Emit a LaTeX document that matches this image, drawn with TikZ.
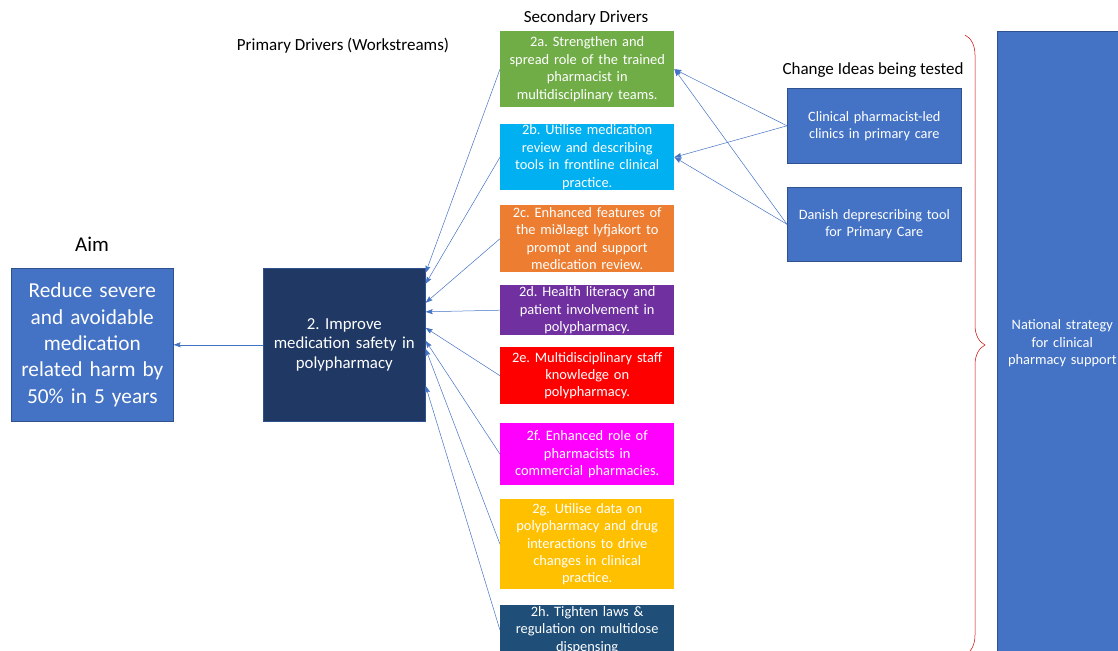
\documentclass[tikz,border=0pt]{standalone}
\usepackage{fontspec}
\setmainfont{Carlito}
\usepackage{tikz}
\usetikzlibrary{arrows.meta,positioning,calc,decorations.pathreplacing}
\frenchspacing

\definecolor{aimblue}{HTML}{4472C4}
\definecolor{navy}{HTML}{203864}
\definecolor{edgeblue}{HTML}{2F528F}
\definecolor{c2a}{HTML}{70AD47}
\definecolor{c2b}{HTML}{00B0F0}
\definecolor{c2c}{HTML}{ED7D31}
\definecolor{c2d}{HTML}{7030A0}
\definecolor{c2e}{HTML}{FF0000}
\definecolor{c2f}{HTML}{FF00FF}
\definecolor{c2g}{HTML}{FFC000}
\definecolor{c2h}{HTML}{1F4E79}

\begin{document}
\begin{tikzpicture}[x=1pt, y=-1pt,
    sec/.style={anchor=north west, minimum width=174, text width=170, inner xsep=2, inner ysep=0,
                align=center, text=white, font=\fontsize{14.4}{17.4}\selectfont},
    idea/.style={anchor=north west, minimum width=174, text width=168, inner xsep=3, inner ysep=0,
                 align=center, text=white, fill=aimblue, draw=edgeblue, line width=0.6pt,
                 font=\fontsize{14.3}{17}\selectfont},
    head/.style={font=\fontsize{17}{20}\selectfont},
    arr/.style={-{Stealth[length=7pt, width=5pt, inset=1pt]}, aimblue, line width=0.5pt}]
    \useasboundingbox (0,0) rectangle (1118,650);
    \clip (0,0) rectangle (1118,650);

    % Headings
    \node[font=\fontsize{21}{24}\selectfont] (aimlab) at (92,244) {Aim};
    \node[head] (primlab) at (343,46) {Primary Drivers (Workstreams)};
    \node[head] (seclab) at (586,18) {Secondary Drivers};
    \node[head] (idealab) at (873,70) {Change Ideas being tested};

    % Aim and primary driver
    \node[anchor=north west, minimum width=162, minimum height=153, text width=158, inner xsep=2,
          align=center, fill=aimblue, draw=edgeblue, line width=0.6pt, text=white,
          font=\fontsize{21.3}{26.3}\selectfont] (aim) at (11,268)
          {Reduce severe\\and avoidable\\medication\\related harm by\\50\% in 5 years};
    \node[anchor=north west, minimum width=162, minimum height=153, text width=158, inner xsep=2,
          align=center, fill=navy, draw=edgeblue, line width=0.6pt, text=white,
          font=\fontsize{16.8}{19.8}\selectfont] (prim) at (263,268)
          {2. Improve\\medication safety in\\polypharmacy};

    % Secondary drivers
    \node[sec, fill=c2a, minimum height=76] (s2a) at (500,31)
          {2a. Strengthen and\\spread role of the trained\\pharmacist in\\multidisciplinary teams.};
    \node[sec, fill=c2b, minimum height=66] (s2b) at (500,124)
          {2b. Utilise medication\\review and describing\\tools in frontline clinical\\practice.};
    \node[sec, fill=c2c, minimum height=67] (s2c) at (500,205)
          {2c. Enhanced features of\\the miðlægt lyfjakort to\\prompt and support\\medication review.};
    \node[sec, fill=c2d, minimum height=50] (s2d) at (500,285)
          {2d. Health literacy and\\patient involvement in\\polypharmacy.};
    \node[sec, fill=c2e, minimum height=57] (s2e) at (500,347)
          {2e. Multidisciplinary staff\\knowledge on\\polypharmacy.};
    \node[sec, fill=c2f, minimum height=62] (s2f) at (500,423)
          {2f. Enhanced role of\\pharmacists in\\commercial pharmacies.};
    \node[sec, fill=c2g, minimum height=90] (s2g) at (500,499)
          {2g. Utilise data on\\polypharmacy and drug\\interactions to drive\\changes in clinical\\practice.};
    \node[sec, fill=c2h, minimum height=50] (s2h) at (500,605)
          {2h. Tighten laws \&\\regulation on multidose\\dispensing};

    % Change ideas
    \node[idea, minimum height=75] (ci1) at (787,88) {Clinical pharmacist-led\\clinics in primary care};
    \node[idea, minimum height=74] (ci2) at (787,187) {Danish deprescribing tool\\for Primary Care};

    % National strategy and brace
    \node[anchor=north west, minimum width=130, minimum height=624, text width=126, inner xsep=2,
          align=center, fill=aimblue, draw=edgeblue, line width=0.6pt, text=white,
          font=\fontsize{14.4}{17.5}\selectfont] (nat) at (997,31)
          {National strategy\\for clinical\\pharmacy support};
    \draw[red!80!black, line width=0.5pt, decorate, decoration={brace, amplitude=20pt}]
          (965,35) -- (965,655);

    % Connectors
    \draw[arr] (prim.west) -- (aim.east);
    \draw[arr] (s2a.west) -- ([yshift=72pt]prim.east);
    \draw[arr] (s2b.west) -- ([yshift=61pt]prim.east);
    \draw[arr] (s2c.west) -- ([yshift=42pt]prim.east);
    \draw[arr] (s2d.west) -- ([yshift=33pt]prim.east);
    \draw[arr] (s2e.west) -- ([yshift=17pt]prim.east);
    \draw[arr] (s2f.west) -- ([yshift=4pt]prim.east);
    \draw[arr] (s2g.west) -- ([yshift=-4pt]prim.east);
    \draw[arr] (s2h.west) -- ([yshift=-41pt]prim.east);
    \draw[arr] (ci1.west) -- (s2a.east);
    \draw[arr] (ci1.west) -- (s2b.east);
    \draw[arr] (ci2.west) -- (s2a.east);
    \draw[arr] (ci2.west) -- (s2b.east);
\end{tikzpicture}
\end{document}
